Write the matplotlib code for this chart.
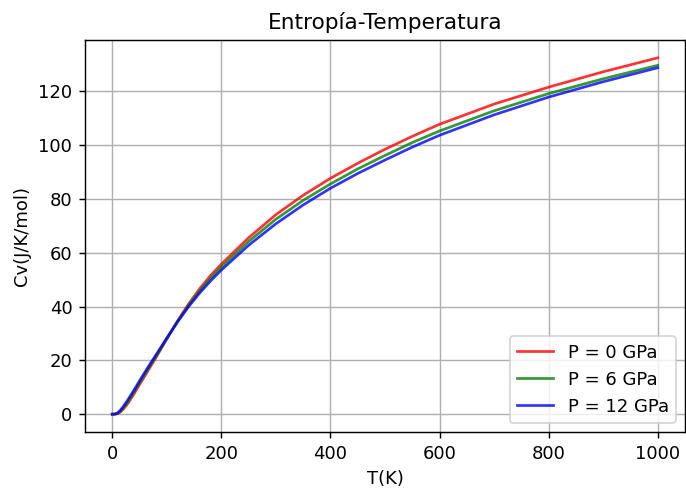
import matplotlib
matplotlib.use("Agg")
import matplotlib.pyplot as plt

# Temperaturas (K) y entropia (J/K/mol)
T = [0, 5, 10, 15, 20, 25, 30, 40, 50, 60, 70, 80, 100, 120, 140, 160, 180,
     200, 250, 300, 350, 400, 450, 500, 550, 600, 700, 800, 900, 1000]

S_0gpa = [0, 0.02, 0.2, 0.8, 1.8, 3.0, 4.4, 7.6, 11.0, 14.3, 17.7, 21.0, 28.0,
          34.8, 41.0, 46.6, 51.5, 55.8, 65.6, 74.2, 81.4, 87.7, 93.3, 98.5,
          103.3, 107.8, 115.3, 121.6, 127.3, 132.5]
S_6gpa = [0, 0.03, 0.35, 1.1, 2.3, 3.6, 5.1, 8.3, 11.7, 15.0, 18.3, 21.5, 28.1,
          34.6, 40.5, 45.8, 50.5, 54.7, 64.2, 72.5, 79.5, 85.6, 91.2, 96.2,
          101.0, 105.3, 112.8, 119.2, 124.7, 129.7]
S_12gpa = [0, 0.05, 0.5, 1.5, 2.8, 4.3, 5.8, 9.0, 12.4, 15.7, 18.9, 22.0, 28.3,
           34.4, 40.0, 45.0, 49.5, 53.6, 62.8, 70.8, 77.8, 84.0, 89.5, 94.5,
           99.3, 103.7, 111.3, 117.9, 123.6, 128.8]

etiquetas = ['P = 0 GPa', 'P = 6 GPa', 'P = 12 GPa']
colores = ['r', 'g', 'b']

DPI = 130
fig = plt.figure(figsize=(686 / DPI, 493 / DPI), dpi=DPI)
ax = fig.add_axes([85 / 686, 1 - 432 / 493, 600 / 686, 392 / 493])

for S, lab, c in zip([S_0gpa, S_6gpa, S_12gpa], etiquetas, colores):
    ax.plot(T, S, color=c, alpha=0.8, lw=1.5, label=lab)

ax.set_title('Entropía-Temperatura')
ax.set_xlabel('T(K)')
ax.set_ylabel('Cv(J/K/mol)')
ax.grid(True)
ax.legend(loc='lower right')

fig.savefig('out.png', dpi=DPI)
